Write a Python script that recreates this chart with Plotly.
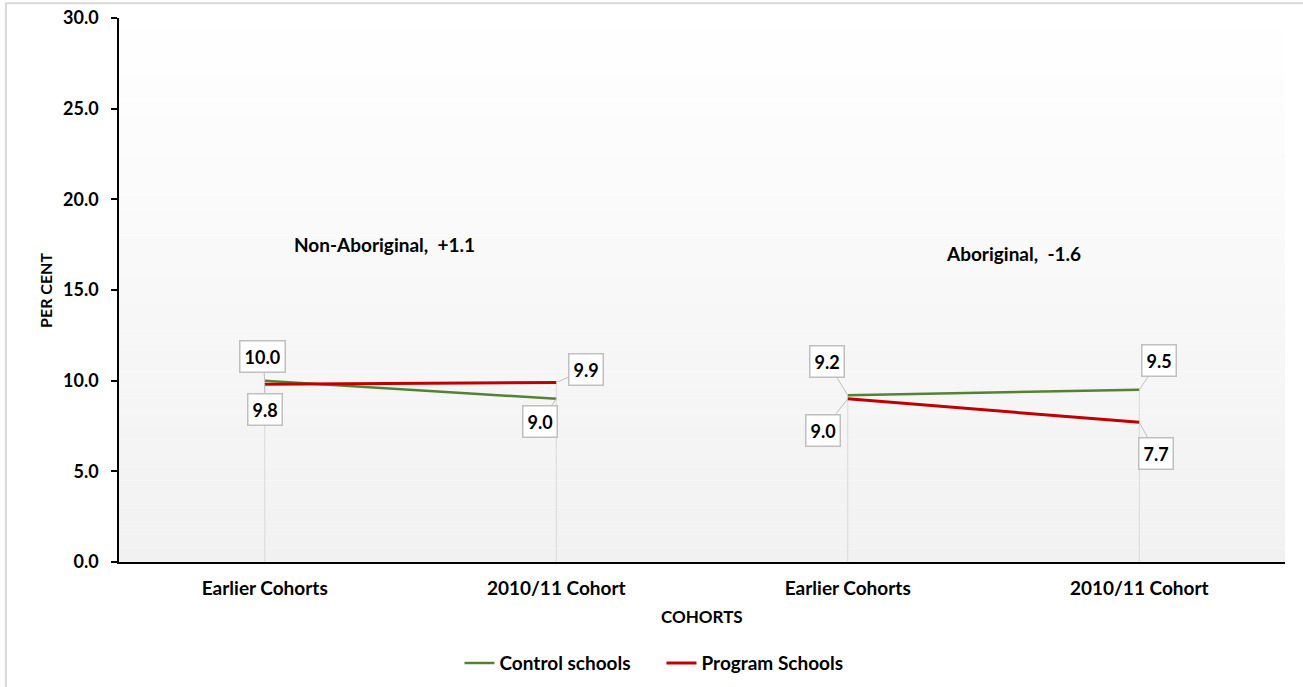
import plotly.graph_objects as go

# Data
cohorts = ["Earlier Cohorts", "2010/11 Cohort", "Earlier Cohorts", "2010/11 Cohort"]
groups = ["Non-Aboriginal", "Aboriginal"]
group_change = ["+1.1", "-1.6"]
control_schools = [10.0, 9.0, 9.2, 9.5]
program_schools = [9.8, 9.9, 9.0, 7.7]

FONT = "Lato"
GREEN = "#548235"
RED = "#c00000"

xpos = list(range(len(cohorts)))


def split_pairs(vals):
    # connect only within each group (two cohorts per group)
    xs, ys = [], []
    for g in range(0, len(vals), 2):
        xs += [xpos[g], xpos[g + 1], None]
        ys += [vals[g], vals[g + 1], None]
    return xs, ys


fig = go.Figure()

# drop lines from the top point of each category down to zero
dx, dy = [], []
for i in xpos:
    dx += [i, i, None]
    dy += [0, max(control_schools[i], program_schools[i]), None]
fig.add_trace(go.Scatter(x=dx, y=dy, mode="lines", line=dict(color="#d9d9d9", width=1),
                         showlegend=False, hoverinfo="skip"))

cx, cy = split_pairs(control_schools)
px_, py_ = split_pairs(program_schools)
fig.add_trace(go.Scatter(x=cx, y=cy, mode="lines", name="Control schools",
                         line=dict(color=GREEN, width=2.5)))
fig.add_trace(go.Scatter(x=px_, y=py_, mode="lines", name="Program Schools",
                         line=dict(color=RED, width=3)))

# callout offsets (pixels) for each data label
control_off = [(-2, -24), (-16, 23), (-21, -34), (20, -29)]
program_off = [(0, 25), (30, -13), (-25, 32), (17, 31)]

annotations = []
for vals, offs in ((control_schools, control_off), (program_schools, program_off)):
    for i, (v, (ax, ay)) in enumerate(zip(vals, offs)):
        annotations.append(dict(
            x=xpos[i], y=v, text=f"<b>{v:.1f}</b>", showarrow=True, arrowhead=0,
            arrowwidth=1, arrowcolor="#bfbfbf", ax=ax, ay=ay,
            bgcolor="white", bordercolor="#bfbfbf", borderwidth=1.5, borderpad=4,
            font=dict(family=FONT, size=18, color="black")))

# group change labels
annotations.append(dict(x=0.41, y=17.5, xref="x", yref="y", showarrow=False,
                        text=f"<b>{groups[0]},  {group_change[0]}</b>",
                        font=dict(family=FONT, size=19, color="black")))
annotations.append(dict(x=2.57, y=17.0, xref="x", yref="y", showarrow=False,
                        text=f"<b>{groups[1]},  {group_change[1]}</b>",
                        font=dict(family=FONT, size=19, color="black")))

# axis titles
annotations.append(dict(x=-0.0635, y=0.5, xref="paper", yref="paper", showarrow=False,
                        xanchor="center", yanchor="middle",
                        text="<b>PER CENT</b>", textangle=-90,
                        font=dict(family=FONT, size=16, color="black")))
annotations.append(dict(x=0.5, y=-0.0993, xref="paper", yref="paper", showarrow=False,
                        xanchor="center", yanchor="middle",
                        text="<b>COHORTS</b>",
                        font=dict(family=FONT, size=17, color="black")))

# vertical gradient background of the plot area
shapes = []
nb = 40
for k in range(nb):
    t = (k + 0.5) / nb
    c = int(round(255 - (255 - 241) * t))
    shapes.append(dict(type="rect", xref="paper", yref="paper", x0=0, x1=1,
                       y0=1 - (k + 1) / nb, y1=1 - k / nb, layer="below",
                       line=dict(width=0), fillcolor=f"rgb({c},{c},{c})"))
# outer chart frame
shapes.append(dict(type="rect", xref="paper", yref="paper",
                   x0=-0.097, x1=1.05, y0=-0.3, y1=1.027,
                   line=dict(color="#d9d9d9", width=2), fillcolor="rgba(0,0,0,0)"))

fig.update_layout(
    width=1303, height=687,
    margin=dict(l=119, r=18, t=18, b=125, autoexpand=False),
    paper_bgcolor="white", plot_bgcolor="rgba(0,0,0,0)",
    font=dict(family=FONT, size=18, color="black"),
    showlegend=True,
    legend=dict(orientation="h", x=0.292, y=-0.186, xanchor="left", yanchor="middle",
                font=dict(family=FONT, size=19, color="black", weight="bold"),
                bgcolor="rgba(0,0,0,0)", itemwidth=30,
                entrywidth=157, entrywidthmode="pixels"),
    xaxis=dict(range=[-0.5, 3.5], tickvals=xpos, ticktext=[f"<b>{c}</b>" for c in cohorts],
               showgrid=False, zeroline=False, showline=True, linecolor="black", linewidth=1.5,
               ticks="", ticklabelstandoff=8, tickfont=dict(family=FONT, size=19, color="black")),
    yaxis=dict(range=[0, 30], dtick=5, tickformat=".1f", showgrid=False, zeroline=False,
               showline=True, linecolor="black", linewidth=1.5, ticks="outside", ticklen=6,
               tickcolor="black", tickwidth=1.5, ticklabelstandoff=9,
               tickfont=dict(family=FONT, size=18, color="black", weight="bold")),
    shapes=shapes, annotations=annotations,
)

fig.write_html("out.html")
